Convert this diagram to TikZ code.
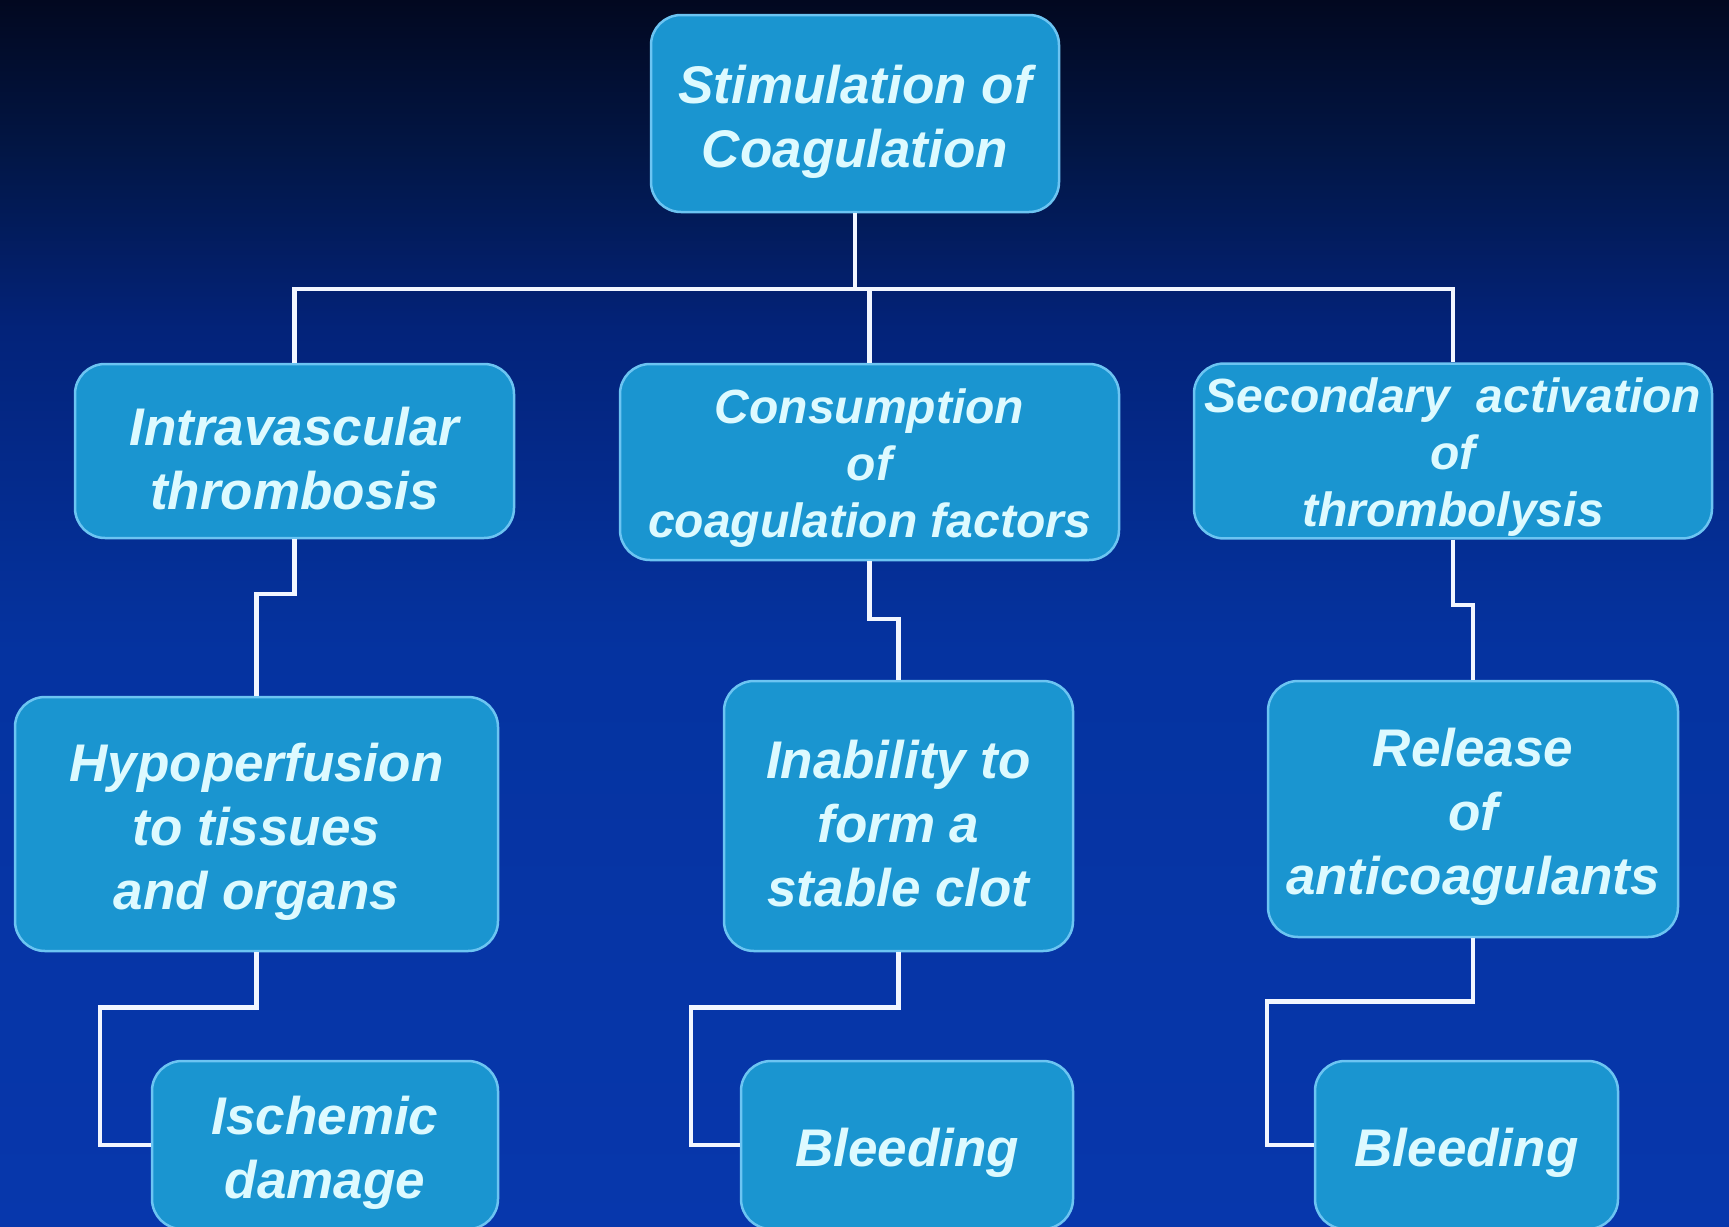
\documentclass[tikz,border=0pt]{standalone}
\usepackage{fontspec}
\setmainfont{Liberation Sans}
\usetikzlibrary{calc}
\definecolor{bgA}{HTML}{020820}
\definecolor{bgB}{HTML}{021645}
\definecolor{bgC}{HTML}{03237A}
\definecolor{bgD}{HTML}{0533A0}
\definecolor{bgE}{HTML}{0737AC}
\definecolor{boxfill}{HTML}{1A95D0}
\definecolor{boxline}{HTML}{6CC4F2}
\definecolor{boxtext}{HTML}{DDFAFF}
\definecolor{connline}{HTML}{F2F6FF}
\newcommand\tpA{\rule{0pt}{54pt}}
\newcommand\tpB{\rule{0pt}{47pt}}
\begin{document}
\begin{tikzpicture}[x=1pt,y=-1pt,
  box/.style={draw=boxline, line width=2.5pt, fill=boxfill, rounded corners=30pt,
    text=boxtext, align=center, inner sep=2pt,
    font={\fontsize{53}{64}\selectfont\bfseries\itshape}},
  smalltxt/.style={font={\fontsize{48}{57}\selectfont\bfseries\itshape}},
  conn/.style={draw=connline, line width=4.5pt, line join=miter}]
\useasboundingbox (0,0) rectangle (1729,1226);
\clip (0,0) rectangle (1729,1226);
\shade[top color=bgA, bottom color=bgB] (0,0) rectangle (1729,151);
\shade[top color=bgB, bottom color=bgC] (0,150) rectangle (1729,331);
\shade[top color=bgC, bottom color=bgD] (0,330) rectangle (1729,651);
\shade[top color=bgD, bottom color=bgE] (0,650) rectangle (1729,1226);

% top
\node[box, minimum width=408pt, minimum height=197pt] (top) at (855,113.5) {\tpA Stimulation of\\Coagulation};
% second row
\node[box, minimum width=439pt, minimum height=174pt] (intra) at (294.5,451) {\tpA Intravascular\\thrombosis};
\node[box, smalltxt, minimum width=499pt, minimum height=196pt] (cons) at (869.5,462) {\tpB Consumption\\of\\coagulation factors};
\node[box, smalltxt, minimum width=518pt, minimum height=174pt] (sec) at (1453,451) {\tpB Secondary\ \ activation\\of\\thrombolysis};
% third row
\node[box, minimum width=483pt, minimum height=254pt] (hypo) at (256.5,824) {\tpA Hypoperfusion\\to tissues\\and organs};
\node[box, minimum width=349pt, minimum height=270pt] (inab) at (898.5,816) {\tpA Inability to\\form a\\stable clot};
\node[box, minimum width=410pt, minimum height=256pt] (rel) at (1473,809) {\tpA Release\\of\\anticoagulants};
% bottom row
\node[box, minimum width=346pt, minimum height=168pt] (isch) at (325,1145) {\tpA Ischemic\\damage};
\node[box, minimum width=332pt, minimum height=168pt] (bl1) at (907,1145) {\tpA Bleeding};
\node[box, minimum width=303pt, minimum height=168pt] (bl2) at (1466.5,1145) {\tpA Bleeding};

% connectors
\coordinate (hub) at (855,289);
\draw[conn] (top.south) -- (top.south |- hub);
\draw[conn] (intra.north) |- (sec.north |- hub) -- (sec.north);
\draw[conn] (cons.north) -- (cons.north |- hub);

\draw[conn] (intra.south) |- ($(hypo.north)+(0,-102)$) -- (hypo.north);
\draw[conn] (cons.south) |- ($(inab.north)+(0,-61)$) -- (inab.north);
\draw[conn] (sec.south) |- ($(rel.north)+(0,-75)$) -- (rel.north);

\draw[conn] (hypo.south) -- ++(0,55) -| ($(isch.west)+(-51,0)$) -- (isch.west);
\draw[conn] (inab.south) -- ++(0,55) -| ($(bl1.west)+(-49,0)$) -- (bl1.west);
\draw[conn] (rel.south) -- ++(0,63) -| ($(bl2.west)+(-47,0)$) -- (bl2.west);
\end{tikzpicture}
\end{document}
